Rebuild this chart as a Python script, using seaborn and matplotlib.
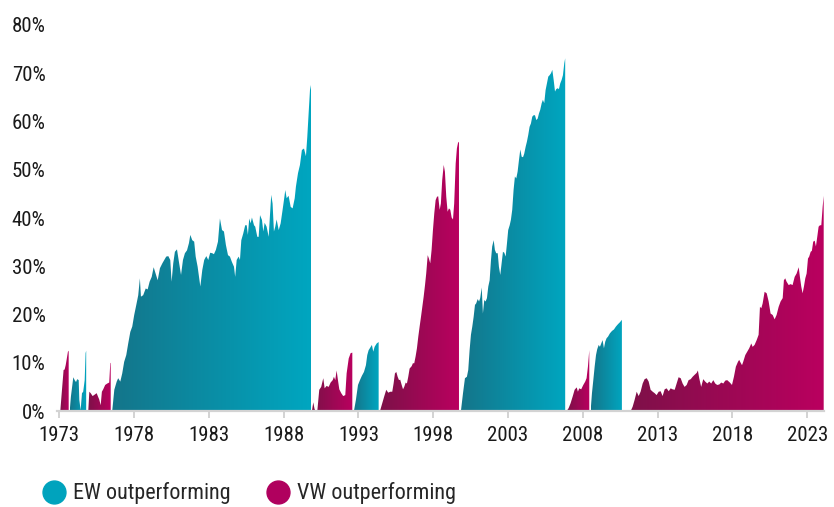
import numpy as np
import matplotlib
matplotlib.use("Agg")
import matplotlib.pyplot as plt
from matplotlib.lines import Line2D
from matplotlib.patches import PathPatch
import seaborn as sns

# ---------------- data ----------------
vw_1973_years = [1973.07, 1973.18, 1973.29, 1973.36, 1973.43, 1973.49, 1973.58, 1973.63]
vw_1973_vals = [0, 4.3, 8.5, 8.6, 9.5, 10.6, 12.3, 12.5]

ew_1973_years = [1973.70, 1973.78, 1973.94, 1974.03, 1974.12, 1974.20, 1974.30, 1974.34,
                 1974.43, 1974.52, 1974.60, 1974.70, 1974.76, 1974.80]
ew_1973_vals = [0, 3.0, 7.0, 6.4, 6.0, 6.6, 6.4, 2.3, 0.2, 3.7, 4.0, 6.4, 12.0, 12.5]

vw_1975_years = [1974.94, 1975.01, 1975.10, 1975.23, 1975.37, 1975.50, 1975.59, 1975.67,
                 1975.77, 1975.85, 1975.94, 1976.07, 1976.21, 1976.34, 1976.41, 1976.44]
vw_1975_vals = [0, 4.0, 3.7, 3.1, 3.4, 3.7, 3.0, 2.4, 1.2, 4.0, 4.5, 5.4, 5.7, 5.9, 9.9, 10.0]

ew_1976_years = [1976.54, 1976.68, 1976.84, 1976.94, 1977.08, 1977.21, 1977.34, 1977.48,
                 1977.61, 1977.75, 1977.88, 1978.01, 1978.15, 1978.28, 1978.39, 1978.46,
                 1978.61, 1978.78, 1978.91, 1979.04, 1979.18, 1979.31, 1979.44, 1979.58,
                 1979.73, 1979.89, 1980.02, 1980.15, 1980.29, 1980.42, 1980.51, 1980.62,
                 1980.73, 1980.87, 1981.00, 1981.14, 1981.27, 1981.40, 1981.54, 1981.67,
                 1981.76, 1981.89, 1982.02, 1982.12, 1982.25, 1982.43, 1982.56, 1982.69,
                 1982.83, 1982.96, 1983.09, 1983.23, 1983.34, 1983.47, 1983.61, 1983.74,
                 1983.88, 1984.01, 1984.14, 1984.28, 1984.41, 1984.54, 1984.68, 1984.76,
                 1984.86, 1984.99, 1985.08, 1985.17, 1985.30, 1985.43, 1985.53, 1985.61,
                 1985.70, 1985.79, 1985.88, 1986.02, 1986.10, 1986.24, 1986.33, 1986.42,
                 1986.55, 1986.64, 1986.73, 1986.86, 1987.00, 1987.08, 1987.17, 1987.26,
                 1987.35, 1987.44, 1987.53, 1987.67, 1987.80, 1987.93, 1988.02, 1988.11,
                 1988.20, 1988.33, 1988.47, 1988.60, 1988.74, 1988.82, 1988.96, 1989.09,
                 1989.22, 1989.36, 1989.49, 1989.58, 1989.67, 1989.76, 1989.83]
ew_1976_vals = [0, 4.4, 6.1, 6.8, 6.1, 7.8, 10.2, 11.6,
                14.0, 16.4, 17.5, 19.9, 22.0, 24.0, 27.5, 23.7,
                24.0, 25.4, 25.2, 26.8, 27.8, 29.8, 28.5, 27.1,
                29.6, 30.6, 31.3, 32.0, 32.1, 31.3, 26.8, 30.6,
                33.0, 33.5, 30.9, 28.2, 31.3, 32.7, 33.3, 34.8,
                36.5, 35.4, 35.1, 32.0, 29.9, 25.8, 29.2, 31.3,
                32.1, 31.3, 32.8, 32.7, 32.5, 33.4, 35.1, 39.9,
                37.5, 37.2, 34.4, 32.3, 32.0, 30.9, 29.9, 27.8,
                31.3, 32.0, 31.3, 35.4, 36.8, 38.5, 38.5, 36.5,
                39.9, 38.9, 40.1, 38.5, 38.2, 36.1, 36.1, 40.6,
                39.6, 37.2, 39.0, 38.2, 36.1, 40.3, 44.8, 43.0,
                37.2, 38.2, 39.7, 37.5, 38.9, 41.7, 43.7, 45.8,
                44.1, 44.6, 42.3, 42.0, 44.1, 46.5, 49.3, 51.0,
                54.1, 54.4, 52.8, 56.8, 61.7, 66.5, 67.6]

vw_1990_years = [1989.89, 1989.98, 1990.06, 1990.12, 1990.25, 1990.38, 1990.51, 1990.65,
                 1990.74, 1990.87, 1991.01, 1991.14, 1991.28, 1991.36, 1991.45, 1991.54,
                 1991.63, 1991.72, 1991.85, 1991.98, 1992.12, 1992.21, 1992.35, 1992.48,
                 1992.59]
vw_1990_vals = [0, 1.8, 0.5, 0, 0, 4.4, 5.0, 6.8,
                4.7, 5.2, 5.0, 5.9, 6.4, 7.1, 6.4, 8.4,
                6.4, 4.5, 3.7, 3.1, 3.3, 7.8, 10.9, 12.0,
                12.1]

ew_1993_years = [1992.70, 1992.83, 1992.97, 1993.10, 1993.23, 1993.37, 1993.50, 1993.59,
                 1993.68, 1993.82, 1993.90, 1993.99, 1994.08, 1994.22, 1994.35]
ew_1993_vals = [0, 2.3, 5.4, 6.4, 7.3, 8.1, 9.5, 11.6, 12.6, 13.3, 13.7, 12.3, 13.3, 14.0, 14.3]

vw_1994_years = [1994.44, 1994.59, 1994.72, 1994.86, 1994.99, 1995.13, 1995.26, 1995.35,
                 1995.44, 1995.53, 1995.62, 1995.71, 1995.79, 1995.89, 1995.98, 1996.06,
                 1996.16, 1996.24, 1996.33, 1996.42, 1996.56, 1996.64, 1996.73, 1996.82,
                 1996.91, 1997.00, 1997.09, 1997.18, 1997.27, 1997.36, 1997.45, 1997.53,
                 1997.63, 1997.71, 1997.80, 1997.89, 1997.98, 1998.07, 1998.16, 1998.25,
                 1998.33, 1998.43, 1998.51, 1998.60, 1998.70, 1998.78, 1998.87, 1998.96,
                 1999.05, 1999.14, 1999.23, 1999.32, 1999.40, 1999.50, 1999.58, 1999.67,
                 1999.72]
vw_1994_vals = [0, 1.6, 3.0, 4.4, 3.8, 4.0, 4.0, 5.7,
                7.8, 8.1, 7.1, 6.4, 6.5, 5.4, 4.5, 5.0,
                5.9, 5.7, 7.1, 8.8, 9.3, 9.9, 9.9, 11.3,
                13.0, 15.4, 17.5, 19.5, 21.6, 23.7, 26.1, 28.5,
                32.3, 31.6, 30.6, 33.4, 37.5, 41.0, 43.7, 44.4,
                44.5, 41.7, 43.0, 47.9, 51.0, 49.6, 44.4, 41.3,
                42.0, 41.7, 40.1, 39.7, 43.0, 51.3, 54.4, 55.8,
                55.6]

ew_2000_years = [1999.85, 1999.99, 2000.12, 2000.25, 2000.34, 2000.43, 2000.52, 2000.61,
                 2000.70, 2000.79, 2000.87, 2000.97, 2001.06, 2001.14, 2001.24, 2001.32,
                 2001.41, 2001.50, 2001.59, 2001.68, 2001.77, 2001.86, 2001.94, 2002.04,
                 2002.12, 2002.21, 2002.31, 2002.39, 2002.48, 2002.57, 2002.66, 2002.75,
                 2002.84, 2002.93, 2003.01, 2003.11, 2003.19, 2003.28, 2003.37, 2003.46,
                 2003.55, 2003.64, 2003.73, 2003.82, 2003.91, 2004.00, 2004.08, 2004.18,
                 2004.26, 2004.35, 2004.44, 2004.53, 2004.62, 2004.71, 2004.80, 2004.89,
                 2004.98, 2005.07, 2005.15, 2005.25, 2005.33, 2005.42, 2005.51, 2005.60,
                 2005.69, 2005.78, 2005.87, 2005.96, 2006.05, 2006.14, 2006.22, 2006.32,
                 2006.40, 2006.49, 2006.58, 2006.67, 2006.76, 2006.82]
ew_2000_vals = [0, 3.7, 6.8, 7.1, 8.5, 12.6, 15.8, 17.5,
                19.5, 22.0, 22.3, 23.2, 22.7, 23.4, 25.6, 20.2,
                23.0, 22.7, 23.4, 25.8, 27.1, 31.3, 34.1, 35.4,
                33.4, 32.7, 32.7, 29.9, 28.2, 30.6, 33.0, 32.8,
                32.0, 34.8, 37.5, 38.5, 39.6, 41.7, 45.8, 48.6,
                48.2, 49.6, 52.0, 54.2, 52.7, 52.6, 53.3, 54.8,
                55.8, 57.2, 58.9, 59.6, 61.0, 61.3, 61.3, 60.3,
                60.6, 61.7, 62.4, 63.8, 64.5, 63.8, 66.5, 67.9,
                69.3, 69.6, 70.0, 70.7, 68.6, 66.2, 66.7, 66.9,
                66.7, 67.9, 68.6, 69.6, 72.1, 73.1]

vw_2007_years = [2006.92, 2007.05, 2007.18, 2007.32, 2007.45, 2007.59, 2007.67, 2007.76,
                 2007.89, 2008.03, 2008.16, 2008.25, 2008.34, 2008.43]
vw_2007_vals = [0, 0.6, 1.6, 3.0, 4.4, 4.9, 4.0, 4.7, 4.5, 5.4, 6.1, 6.8, 9.2, 12.6]

ew_2008_years = [2008.52, 2008.61, 2008.70, 2008.79, 2008.88, 2008.96, 2009.06, 2009.14,
                 2009.23, 2009.32, 2009.41, 2009.50, 2009.59, 2009.68, 2009.81, 2009.95,
                 2010.08, 2010.21, 2010.35, 2010.48, 2010.61]
ew_2008_vals = [0, 3.7, 6.4, 9.2, 11.6, 12.8, 13.7, 13.3,
                14.0, 14.7, 13.0, 14.4, 15.1, 15.4, 16.1, 16.6,
                16.9, 17.5, 18.0, 18.4, 18.9]

vw_2010_years = [2010.68, 2010.79, 2010.93, 2011.06, 2011.20, 2011.33, 2011.46, 2011.60,
                 2011.73, 2011.86, 2012.00, 2012.13, 2012.27, 2012.40, 2012.53, 2012.67,
                 2012.80, 2012.93, 2013.07, 2013.20, 2013.33, 2013.47, 2013.60, 2013.74,
                 2013.87, 2014.00, 2014.14, 2014.27, 2014.40, 2014.54, 2014.67, 2014.80,
                 2014.94, 2015.07, 2015.21, 2015.34, 2015.47, 2015.61, 2015.69, 2015.78,
                 2015.91, 2016.05, 2016.18, 2016.32, 2016.45, 2016.58, 2016.72, 2016.85,
                 2016.98, 2017.12, 2017.25, 2017.39, 2017.52, 2017.65, 2017.83, 2017.97,
                 2018.10, 2018.23, 2018.37, 2018.45, 2018.55, 2018.64, 2018.72, 2018.86,
                 2018.99, 2019.12, 2019.26, 2019.35, 2019.48, 2019.62, 2019.75, 2019.84,
                 2019.93, 2020.02, 2020.15, 2020.29, 2020.42, 2020.55, 2020.69, 2020.82,
                 2020.95, 2021.09, 2021.22, 2021.36, 2021.44, 2021.53, 2021.62, 2021.76,
                 2021.89, 2022.02, 2022.16, 2022.29, 2022.43, 2022.51, 2022.60, 2022.69,
                 2022.78, 2022.87, 2022.96, 2023.05, 2023.13, 2023.23, 2023.31, 2023.40,
                 2023.50, 2023.58, 2023.67, 2023.76, 2023.85, 2023.94, 2024.03, 2024.10]
vw_2010_vals = [0, 0.2, 0.1, 0.2, 0, 0.9, 2.3, 4.0,
                3.1, 4.0, 5.7, 6.6, 6.8, 6.1, 4.4, 4.0,
                3.7, 3.3, 4.0, 4.1, 3.1, 4.5, 4.7, 4.1,
                4.7, 4.5, 4.4, 5.7, 7.0, 6.8, 5.7, 5.0,
                5.4, 6.4, 6.6, 7.1, 7.5, 7.9, 8.4, 6.8,
                5.0, 6.6, 6.1, 5.7, 6.1, 5.7, 6.4, 5.7,
                5.4, 5.5, 5.9, 5.7, 6.3, 6.4, 5.9, 5.4,
                7.1, 9.2, 10.2, 10.6, 10.0, 9.5, 10.2, 11.6,
                12.3, 13.0, 14.0, 13.3, 13.7, 14.7, 15.8, 21.6,
                21.3, 22.3, 24.7, 24.4, 22.7, 20.2, 19.9, 19.0,
                19.9, 21.6, 22.7, 23.4, 27.1, 27.5, 26.8, 26.1,
                26.3, 26.1, 27.8, 28.5, 29.8, 27.8, 25.8, 24.4,
                25.8, 27.5, 28.5, 31.6, 32.0, 33.0, 33.2, 35.1,
                35.3, 34.1, 36.1, 38.2, 38.5, 38.5, 42.3, 44.6]

year_ticks = [1973, 1978, 1983, 1988, 1993, 1998, 2003, 2008, 2013, 2018, 2023]
pct_ticks = [0, 10, 20, 30, 40, 50, 60, 70, 80]
legend_labels = ["EW outperforming", "VW outperforming"]

segments = [
    ("VW", vw_1973_years, vw_1973_vals),
    ("EW", ew_1973_years, ew_1973_vals),
    ("VW", vw_1975_years, vw_1975_vals),
    ("EW", ew_1976_years, ew_1976_vals),
    ("VW", vw_1990_years, vw_1990_vals),
    ("EW", ew_1993_years, ew_1993_vals),
    ("VW", vw_1994_years, vw_1994_vals),
    ("EW", ew_2000_years, ew_2000_vals),
    ("VW", vw_2007_years, vw_2007_vals),
    ("EW", ew_2008_years, ew_2008_vals),
    ("VW", vw_2010_years, vw_2010_vals),
]

# ---------------- style ----------------
sns.set_theme(style="white")
plt.rcParams["font.family"] = ["Roboto Condensed", "Roboto", "DejaVu Sans"]

colors = {
    "EW": ("#14758a", "#00a6c0", "#00a3bd"),
    "VW": ("#7c1148", "#ba005f", "#b0005e"),
}
cmaps = {k: sns.blend_palette([v[0], v[1]], as_cmap=True) for k, v in colors.items()}

fig = plt.figure(figsize=(8.34, 5.07), dpi=100)
ax = fig.add_axes([0.068, 0.1893, 0.920, 0.7614])

grad = np.linspace(0, 1, 256)[None, :]
for kind, yrs, vals in segments:
    poly = ax.fill_between(yrs, vals, 0, facecolor="none", edgecolor="none", linewidth=0)
    clip = PathPatch(poly.get_paths()[0], transform=ax.transData,
                     facecolor="none", edgecolor="none")
    ax.add_patch(clip)
    im = ax.imshow(grad, cmap=cmaps[kind], extent=[yrs[0], yrs[-1], 0, max(vals) + 0.5],
                   aspect="auto", origin="lower", interpolation="bilinear", zorder=2)
    im.set_clip_path(clip)

ax.set_xlim(1972.83, 2024.12)
ax.set_ylim(0, 80)
ax.set_xticks(year_ticks)
ax.set_xticklabels([str(y) for y in year_ticks])
ax.set_yticks(pct_ticks)
ax.set_yticklabels([f"{p}%" for p in pct_ticks])

sns.despine(ax=ax, left=True, top=True, right=True)
ax.spines["bottom"].set_color("#d3d3d3")
ax.spines["bottom"].set_linewidth(1.6)
ax.spines["bottom"].set_zorder(3)
ax.tick_params(axis="x", length=5, width=1.4, color="#d3d3d3", pad=6,
               labelsize=15, labelcolor="#1a1a1a", bottom=True)
ax.tick_params(axis="y", length=0, pad=8, labelsize=15, labelcolor="#1a1a1a")
ax.grid(False)

handles = [Line2D([], [], marker="o", linestyle="none", markersize=16.5,
                  markerfacecolor=colors[k][2], markeredgecolor=colors[k][2])
           for k in ("EW", "VW")]
fig.legend(handles, legend_labels, loc="center left", bbox_to_anchor=(0.0515, 0.027),
           ncol=2, frameon=False, fontsize=15.9, handlelength=1.03, handletextpad=0.34,
           columnspacing=1.62, borderpad=0, borderaxespad=0)

fig.savefig("out.png", dpi=100)
